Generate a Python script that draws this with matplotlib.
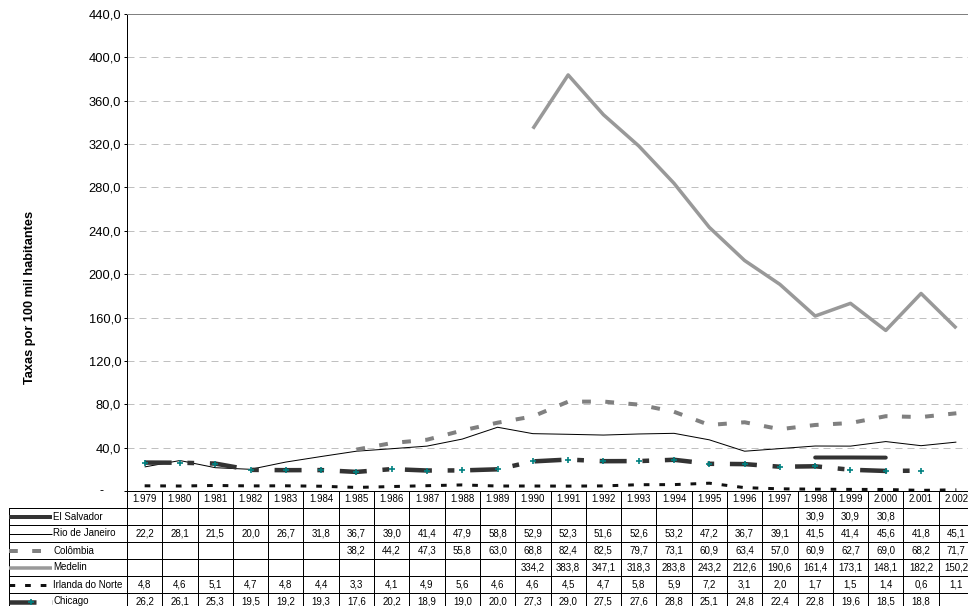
import matplotlib
matplotlib.use("Agg")
import matplotlib.pyplot as plt
from matplotlib.lines import Line2D
from matplotlib.transforms import blended_transform_factory
import numpy as np

plt.rcParams['font.family'] = ['Liberation Sans', 'DejaVu Sans']

years = ["1.979", "1.980", "1.981", "1.982", "1.983", "1.984", "1.985", "1.986",
         "1.987", "1.988", "1.989", "1.990", "1.991", "1.992", "1.993", "1.994",
         "1.995", "1.996", "1.997", "1.998", "1.999", "2.000", "2.001", "2.002"]

N = None
el_salvador = [N, N, N, N, N, N, N, N, N, N, N, N, N, N, N, N, N, N, N,
               30.9, 30.9, 30.8, N, N]
rio = [22.2, 28.1, 21.5, 20.0, 26.7, 31.8, 36.7, 39.0, 41.4, 47.9, 58.8, 52.9,
       52.3, 51.6, 52.6, 53.2, 47.2, 36.7, 39.1, 41.5, 41.4, 45.6, 41.8, 45.1]
colombia = [N, N, N, N, N, N, 38.2, 44.2, 47.3, 55.8, 63.0, 68.8, 82.4, 82.5,
            79.7, 73.1, 60.9, 63.4, 57.0, 60.9, 62.7, 69.0, 68.2, 71.7]
medelin = [N, N, N, N, N, N, N, N, N, N, N, 334.2, 383.8, 347.1, 318.3, 283.8,
           243.2, 212.6, 190.6, 161.4, 173.1, 148.1, 182.2, 150.2]
irlanda = [4.8, 4.6, 5.1, 4.7, 4.8, 4.4, 3.3, 4.1, 4.9, 5.6, 4.6, 4.6, 4.5, 4.7,
           5.8, 5.9, 7.2, 3.1, 2.0, 1.7, 1.5, 1.4, 0.6, 1.1]
chicago = [26.2, 26.1, 25.3, 19.5, 19.2, 19.3, 17.6, 20.2, 18.9, 19.0, 20.0,
           27.3, 29.0, 27.5, 27.6, 28.8, 25.1, 24.8, 22.4, 22.8, 19.6, 18.5,
           18.8, N]

series_names = ["El Salvador", "Rio de Janeiro", "Colômbia", "Medelin",
                "Irlanda do Norte", "Chicago"]
series_values = [el_salvador, rio, colombia, medelin, irlanda, chicago]

y_ticks = [0, 40, 80, 120, 160, 200, 240, 280, 320, 360, 400, 440]
y_label = "Taxas por 100 mil habitantes"

W, H, DPI = 968, 606, 100
PX = 72.0 / DPI  # points per pixel

# line styles (widths in pixels, dash patterns in multiples of line width)
styles = [
    dict(color="#333333", lw=4.0, ls="-", cap="round"),
    dict(color="#000000", lw=1.0, ls="-", cap="butt"),
    dict(color="#808080", lw=4.0, ls=(0, (2.2, 3.6)), cap="butt"),
    dict(color="#999999", lw=3.5, ls="-", cap="butt"),
    dict(color="#111111", lw=3.0, ls=(0, (1.9, 3.3)), cap="butt"),
    dict(color="#333333", lw=4.5, ls=(0, (6.0, 3.5, 1.5, 3.5)), cap="butt",
         marker="+"),
]

fig = plt.figure(figsize=(W / DPI, H / DPI), dpi=DPI)
fig.patch.set_facecolor("white")

left_px, right_px, top_px, bot_px = 127, 974, 14, 491
ax = fig.add_axes([left_px / W, 1 - bot_px / H,
                   (right_px - left_px) / W, (bot_px - top_px) / H])

x = np.arange(len(years))
ax.set_xlim(-0.5, len(years) - 0.5)
ax.set_ylim(0, 440)

for y in y_ticks[1:-1]:
    ax.axhline(y, color="#c0c0c0", lw=1.0 * PX, ls=(0, (7, 5)), zorder=0)

for vals, st in zip(series_values, styles):
    v = np.array([np.nan if a is None else a for a in vals], dtype=float)
    ax.plot(x, v, color=st["color"], lw=st["lw"] * PX, ls=st["ls"],
            solid_capstyle=st["cap"], dash_capstyle="butt", zorder=3)
    if st.get("marker"):
        ax.plot(x, v, ls="none", marker="+", color="#008080",
                markersize=5.0, markeredgewidth=1.2, zorder=4)

ax.set_yticks(y_ticks)
ax.set_yticklabels(["" if t == 0 else f"{t:.1f}".replace(".", ",")
                    for t in y_ticks], fontsize=9.3)
ax.annotate("-", xy=(0, 0), xycoords="axes fraction", xytext=(-25, 0),
            textcoords="offset pixels", ha="center", va="center",
            fontsize=9)
ax.tick_params(axis="y", direction="out", length=3 * PX, width=1 * PX,
               pad=2, colors="black")
ax.tick_params(axis="x", length=0, labelbottom=False)
ax.spines["right"].set_visible(False)
ax.spines["top"].set_color("#808080")
ax.spines["top"].set_linewidth(1.0 * PX)
ax.spines["left"].set_linewidth(1.0 * PX)
ax.spines["bottom"].set_linewidth(1.0 * PX)

fig.text(30 / W, 1 - 297 / H, y_label, rotation=90, ha="center",
         va="center", fontsize=9.2, fontweight="bold")

# data table beneath the plot
tr = blended_transform_factory(ax.transData, fig.transFigure)
ppu = (right_px - left_px) / len(years)
lab_left = -0.5 - (left_px - 9) / ppu
rows_px = [491, 508, 525, 542, 559, 576, 593, 610]
TFS = 7.0


def fy(p):
    return 1 - p / H


def hline(y_px, x0, x1):
    ax.add_line(Line2D([x0, x1], [fy(y_px), fy(y_px)], transform=tr,
                       color="black", lw=1.0 * PX, clip_on=False))


def vline(xv, y0_px, y1_px):
    ax.add_line(Line2D([xv, xv], [fy(y0_px), fy(y1_px)], transform=tr,
                       color="black", lw=1.0 * PX, clip_on=False))


for r in rows_px[1:-1]:
    hline(r, lab_left, len(years) - 0.5)
for i in range(len(years) + 1):
    vline(i - 0.5, rows_px[0], rows_px[-1])
vline(lab_left, rows_px[1], rows_px[-1])

for i, yr in enumerate(years):
    ax.text(i, fy((rows_px[0] + rows_px[1]) / 2), yr, transform=tr,
            ha="center", va="center", fontsize=TFS, clip_on=False)

for r, (name, vals, st) in enumerate(zip(series_names, series_values, styles)):
    yc = fy((rows_px[r + 1] + rows_px[r + 2]) / 2)
    x0, x1 = lab_left, lab_left + 43 / ppu
    ax.add_line(Line2D([x0, x1], [yc, yc], transform=tr, color=st["color"],
                       lw=st["lw"] * PX, ls=st["ls"], clip_on=False,
                       solid_capstyle="butt", dash_capstyle="butt"))
    if st.get("marker"):
        ax.add_line(Line2D([(x0 + x1) / 2], [yc], transform=tr, ls="none",
                           marker="+", color="#008080", markersize=5.0,
                           markeredgewidth=1.2, clip_on=False))
    ax.text(lab_left + 44 / ppu, yc, name, transform=tr, ha="left",
            va="center", fontsize=TFS, clip_on=False)
    for i, v in enumerate(vals):
        if v is not None:
            ax.text(i, yc, f"{v:.1f}".replace(".", ","), transform=tr,
                    ha="center", va="center", fontsize=TFS, clip_on=False)

fig.savefig("out.png", dpi=DPI)
